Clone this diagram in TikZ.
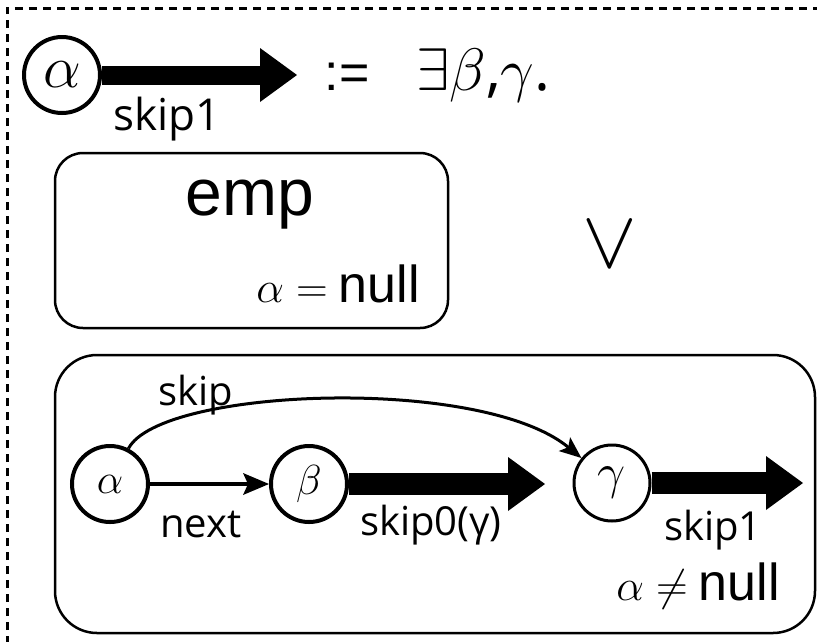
\RequirePackage{fix-cm}
\documentclass[tikz,border=0pt]{standalone}
\usepackage{fontspec}
\setmainfont{Liberation Sans}
\newfontfamily\labfont{Open Sans}
\usetikzlibrary{arrows.meta}
\newcommand\setfs[1]{\fontsize{#1}{#1}\selectfont}
\begin{document}
\begin{tikzpicture}[x=1pt,y=-1pt,
  state/.style={circle,draw,line width=4pt,minimum size=76pt,inner sep=0pt},
  fat/.style={line width=22pt,-{Triangle[length=37pt,width=54pt,line width=0pt]}},
  nextarrow/.style={line width=3.5pt,-{Stealth[length=26pt,width=22pt,inset=5pt,line width=0pt]}},
  curvearrow/.style={line width=3pt,-{Stealth[length=22pt,width=18pt,inset=5pt,line width=0pt]}},
  frame/.style={draw,line width=2.5pt,inner sep=0pt},
  lab/.style={font=\labfont\setfs{40},inner sep=0pt},
  txt/.style={font=\setfs{52},inner sep=0pt}]
\useasboundingbox (0,0) rectangle (817,641);
\draw[line width=3pt,dash pattern=on 8pt off 6pt] (7,700) -- (7,8) -- (900,8);

% definition head
\node[state] (a1) at (62,75) {\setfs{60}$\alpha$};
\coordinate (t1) at (297,75);
\draw[fat,line width=19pt] (a1) -- (t1);
\node[lab,font=\labfont\setfs{44},anchor=base] (s1) at (167,130) {skip1};
\node[txt,anchor=base] (def) at (347,90) {:=};
\node[anchor=base west,inner sep=0pt,font=\setfs{60}] (ex) at (416,90) {$\exists\beta${\labfont,}$\gamma${\labfont.}};

% empty case
\node[frame,rounded corners=28pt,minimum width=393pt,minimum height=175pt] (empbox) at (251.5,240.5) {};
\node[font=\setfs{66},anchor=base,inner sep=0pt] (emp) at (250,215) {emp};
\node[txt,anchor=base east] (eqn) at (420,302) {{\setfs{44}$\alpha=$}\hspace{11pt}null};

\node[font=\setfs{82},inner sep=0pt] (or) at (610,245) {$\vee$};

% non-empty case
\node[frame,rounded corners=42pt,minimum width=760pt,minimum height=278pt] (bigbox) at (435,494) {};
\node[state] (a2) at (110,484) {\setfs{42}$\alpha$};
\node[state] (b) at (309,484) {\setfs{42}$\beta$};
\node[state,line width=3pt] (g) at (612,483) {\setfs{50}$\gamma$};
\coordinate (t2) at (545,484);
\coordinate (t3) at (803,483);
\draw[nextarrow] (a2) -- (b);
\draw[curvearrow] (a2) .. controls (160,388) and (480,375) .. (g);
\draw[fat] (b) -- (t2);
\draw[fat] (g) -- (t3);
\node[lab,anchor=base] (skipl) at (196,405) {skip};
\node[lab,anchor=base] (nextl) at (201,537) {next};
\node[lab,anchor=base east] (skip0l) at (502,535) {skip0(γ)};
\node[lab,anchor=base] (skip1l) at (713,540) {skip1};
\node[txt,anchor=base east] (neq) at (780,600) {{\setfs{44}$\alpha\neq$}\hspace{11pt}null};
\end{tikzpicture}
\end{document}
